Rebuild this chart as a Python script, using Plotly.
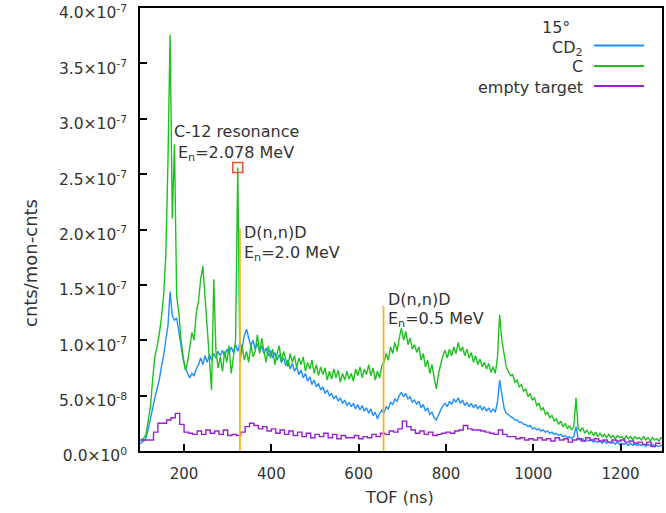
import numpy as np
import plotly.graph_objects as go

# ---------------- data (values in units of 1e-8 cnts/mon-cnts) ----------------
tof = np.arange(98, 1299, 5)  # TOF bin centres (ns)

cd2_e8 = [
    0.6, 0.8, 0.9, 1.2, 2.0, 3.0, 3.9, 4.8, 5.6, 6.4,
    7.6, 8.6, 10.0, 11.3, 14.4, 12.2, 11.8, 12.0, 10.8, 9.5,
    8.2, 7.5, 7.0, 6.6, 7.0, 6.8, 7.4, 7.8, 8.4, 7.8,
    8.6, 8.0, 8.7, 8.2, 8.8, 8.4, 9.0, 8.6, 9.1, 8.5,
    9.2, 8.8, 9.4, 8.9, 9.6, 9.0, 9.8, 9.3, 10.4, 11.0,
    10.2, 9.5, 10.0, 9.2, 9.7, 9.0, 9.5, 8.8, 9.3, 8.6,
    9.1, 8.4, 8.9, 8.2, 8.7, 8.0, 8.4, 7.7, 8.2, 7.4,
    7.9, 7.2, 7.6, 6.9, 7.3, 6.6, 7.0, 6.3, 6.7, 6.0,
    6.4, 5.8, 6.1, 5.5, 5.8, 5.2, 5.5, 5.0, 5.2, 4.7,
    5.0, 4.5, 4.8, 4.3, 4.6, 4.1, 4.4, 4.0, 4.3, 3.8,
    4.2, 3.7, 4.1, 3.6, 3.9, 3.4, 3.8, 3.2, 3.5, 2.9,
    3.4, 3.7, 3.4, 4.0, 3.8, 4.4, 4.2, 4.7, 4.5, 5.0,
    5.3, 4.9, 5.2, 4.7, 4.9, 4.4, 4.6, 4.2, 4.5, 3.9,
    4.2, 3.6, 3.9, 3.3, 3.5, 3.0, 2.8, 3.3, 3.7, 4.1,
    4.3, 4.0, 4.5, 4.2, 4.7, 4.4, 4.8, 4.3, 4.6, 4.1,
    4.4, 4.0, 4.3, 3.9, 4.2, 3.8, 4.1, 3.7, 4.0, 3.6,
    3.9, 3.5, 3.8, 3.5, 4.4, 6.4, 5.0, 3.9, 3.4, 3.3,
    3.1, 3.0, 2.8, 2.8, 2.6, 2.6, 2.4, 2.4, 2.2, 2.3,
    2.0, 2.1, 1.9, 2.0, 1.8, 1.9, 1.7, 1.8, 1.6, 1.7,
    1.5, 1.6, 1.4, 1.5, 1.3, 1.4, 1.2, 1.3, 1.1, 1.3,
    2.2, 1.1, 1.0, 1.1, 0.9, 1.0, 0.9, 1.0, 0.8, 0.9,
    0.8, 0.9, 0.7, 0.9, 0.7, 0.8, 0.7, 0.8, 0.6, 0.8,
    0.6, 0.7, 0.6, 0.7, 0.5, 0.7, 0.5, 0.6, 0.5, 0.6,
    0.5, 0.6, 0.4, 0.6, 0.5, 0.6, 0.4, 0.5, 0.4, 0.5,
    0.5,
]

c_e8 = [
    1.0, 1.0, 1.2, 1.5, 2.8, 4.0, 6.5, 8.5, 9.4, 10.5,
    12.0, 14.0, 17.5, 26.0, 37.6, 21.0, 27.7, 14.0, 12.5, 10.0,
    8.5, 7.3, 8.0, 9.5, 10.7, 10.0, 12.5, 13.5, 15.5, 16.7,
    14.0, 11.5, 9.0, 5.5, 15.5, 9.0, 7.5, 8.5, 7.2, 9.0,
    8.0, 9.5, 7.0, 8.8, 10.0, 25.6, 8.0, 9.5, 8.2, 9.0,
    8.0, 9.6, 8.5, 9.0, 10.5, 8.8, 10.2, 9.0, 8.0, 9.5,
    8.4, 9.2, 7.8, 8.8, 9.5, 8.0, 9.0, 8.3, 7.6, 8.8,
    8.0, 8.6, 7.5, 8.4, 7.8, 8.5, 7.2, 8.0, 7.4, 8.2,
    7.0, 7.8, 6.8, 7.6, 6.9, 7.5, 6.4, 7.2, 6.5, 7.4,
    6.6, 7.3, 6.2, 7.0, 6.4, 7.2, 6.5, 7.0, 6.3, 7.4,
    6.8, 7.6, 6.6, 7.4, 6.9, 7.8, 6.8, 7.5, 6.4, 7.2,
    6.6, 7.7, 8.0, 8.8, 8.2, 9.4, 8.8, 9.8, 9.0, 10.2,
    11.1, 10.0, 10.8, 9.6, 10.2, 9.2, 9.6, 8.9, 9.4, 8.2,
    8.8, 7.6, 8.2, 7.0, 7.8, 6.6, 5.6, 7.0, 7.8, 8.6,
    9.1, 8.4, 9.2, 8.6, 9.4, 8.8, 9.8, 9.0, 9.4, 8.6,
    9.2, 8.4, 8.9, 8.0, 8.6, 7.8, 8.3, 7.6, 8.0, 7.4,
    7.9, 7.1, 7.6, 7.0, 8.4, 12.3, 10.0, 8.6, 7.6, 7.2,
    6.8, 6.9, 6.2, 6.4, 5.8, 6.0, 5.4, 5.6, 4.9, 5.2,
    4.6, 4.8, 4.1, 4.3, 3.7, 3.9, 3.3, 3.5, 3.0, 3.2,
    2.7, 2.9, 2.4, 2.7, 2.2, 2.5, 2.0, 2.3, 1.9, 2.2,
    4.8, 2.0, 1.8, 2.1, 1.6, 1.9, 1.5, 1.8, 1.4, 1.7,
    1.3, 1.6, 1.3, 1.5, 1.2, 1.5, 1.2, 1.4, 1.1, 1.4,
    1.2, 1.3, 1.0, 1.4, 1.1, 1.3, 1.0, 1.3, 1.1, 1.2,
    1.0, 1.3, 1.0, 1.2, 0.9, 1.2, 1.0, 1.1, 0.9, 1.2,
    1.0,
]

empty_tof = np.arange(100, 1300, 10)  # coarser bins (ns)
empty_e8 = [
    1.0, 1.0, 1.0, 1.7, 2.5, 2.5, 2.8, 3.0, 3.4, 2.4,
    1.7, 1.6, 1.5, 1.8, 1.5, 1.9, 1.6, 1.8, 1.5, 1.9,
    1.4, 1.5, 1.4, 1.7, 2.2, 2.5, 2.3, 2.0, 2.2, 1.8,
    2.0, 1.6, 1.9, 1.5, 1.8, 1.4, 1.7, 1.3, 1.6, 1.2,
    1.5, 1.3, 1.6, 1.2, 1.5, 1.1, 1.4, 1.2, 1.2, 1.4,
    1.1, 1.3, 1.2, 1.5, 1.3, 1.6, 1.5, 1.8, 1.7, 2.0,
    2.7, 2.2, 1.9, 1.6, 1.8, 1.5, 1.7, 1.4, 1.5, 1.6,
    1.7, 1.6, 1.8, 1.9, 2.3, 2.0, 1.9, 1.9, 1.8, 1.7,
    1.6, 1.5, 1.9, 1.5, 1.3, 1.3, 1.1, 1.2, 1.0, 1.1,
    1.0, 1.2, 1.0, 1.1, 0.9, 1.2, 1.0, 1.1, 0.8, 1.0,
    1.1, 0.9, 1.2, 1.0, 1.1, 0.9, 1.0, 0.8, 1.0, 0.9,
    1.0, 0.8, 0.9, 0.7, 0.8, 0.6, 0.8, 0.4, 0.7, 0.6,
]

resonance_tof = [323]          # C-12 resonance marker
resonance_val = [2.56e-7]
dnd_tof = [328, 657]           # D(n,n)D markers
dnd_top = [2.01e-7, 1.31e-7]

ytick_vals = [0, 5e-8, 1e-7, 1.5e-7, 2e-7, 2.5e-7, 3e-7, 3.5e-7, 4e-7]
ytick_text = ["0.0×10<sup>0</sup>", "5.0×10<sup>-8</sup>", "1.0×10<sup>-7</sup>",
              "1.5×10<sup>-7</sup>", "2.0×10<sup>-7</sup>", "2.5×10<sup>-7</sup>",
              "3.0×10<sup>-7</sup>", "3.5×10<sup>-7</sup>", "4.0×10<sup>-7</sup>"]
xtick_vals = [200, 400, 600, 800, 1000, 1200]

E8 = 1e-8
cd2 = np.array(cd2_e8) * E8
c = np.array(c_e8) * E8
empty = np.array(empty_e8) * E8

# ---------------- styling ----------------
FONT = "DejaVu Sans"
TXT = "#333333"
BLUE = "#1e8fff"
GREEN = "#1ec21e"
PURPLE = "#9a1fd6"
ORANGE = "#f8b030"
RED = "#f0502a"

W, H = 666, 513
L, R, T, B = 140, 4, 8, 62
pw, ph = W - L - R, H - T - B


def pp(x, y):
    """pixel -> paper coordinates"""
    return (x - L) / pw, (H - B - y) / ph


fig = go.Figure()
fig.add_trace(go.Scatter(x=tof, y=cd2, mode="lines", line=dict(color=BLUE, width=1.4),
                         showlegend=False))
fig.add_trace(go.Scatter(x=tof, y=c, mode="lines", line=dict(color=GREEN, width=1.4),
                         showlegend=False))
fig.add_trace(go.Scatter(x=empty_tof, y=empty, mode="lines", line_shape="hv",
                         line=dict(color=PURPLE, width=1.4), showlegend=False))
for t, top in zip(dnd_tof, dnd_top):
    fig.add_trace(go.Scatter(x=[t, t], y=[0, top], mode="lines",
                             line=dict(color=ORANGE, width=1.8), showlegend=False))
fig.add_trace(go.Scatter(x=resonance_tof, y=resonance_val, mode="markers",
                         marker=dict(symbol="square-open", size=10, color=RED,
                                     line=dict(width=1.5, color=RED)),
                         showlegend=False))

annotations = []


def add_text(text, x, y, xanchor="left", size=16, angle=0, align="left"):
    ax, ay = pp(x, y)
    annotations.append(dict(text=text, x=ax, y=ay, xref="paper", yref="paper",
                            xanchor=xanchor, yanchor="middle", showarrow=False,
                            textangle=angle, align=align,
                            font=dict(family=FONT, size=size, color=TXT)))


add_text("C-12 resonance", 236, 131, xanchor="center")
add_text("E<sub>n</sub>=2.078 MeV", 236, 153, xanchor="center")
add_text("D(n,n)D", 242, 232)
add_text("E<sub>n</sub>=2.0 MeV", 242, 253)
add_text("D(n,n)D", 386, 299)
add_text("E<sub>n</sub>=0.5 MeV", 386, 319)
# legend
add_text("15°", 572, 27, xanchor="right")
add_text("CD<sub>2</sub>", 585, 49, xanchor="right")
add_text("C", 585, 66, xanchor="right")
add_text("empty target", 585, 87, xanchor="right")
# axis titles
add_text("cnts/mon-cnts", 30, 263, xanchor="center", angle=-90, size=18)
add_text("TOF (ns)", 399, 497, xanchor="center")

shapes = []
for yy, col in [(45.5, BLUE), (66, GREEN), (86, PURPLE)]:
    x0, y0 = pp(594, yy)
    x1, _ = pp(644, yy)
    shapes.append(dict(type="line", xref="paper", yref="paper", x0=x0, x1=x1,
                       y0=y0, y1=y0, line=dict(color=col, width=2)))

fig.update_layout(
    width=W, height=H,
    margin=dict(l=L, r=R, t=T, b=B, pad=0, autoexpand=False),
    paper_bgcolor="white", plot_bgcolor="white",
    font=dict(family=FONT, size=15, color=TXT),
    annotations=annotations, shapes=shapes,
    showlegend=False,
    xaxis=dict(range=[99, 1295], tickvals=xtick_vals, ticks="inside", ticklen=7,
               tickwidth=1.5, tickcolor="black", showline=True, linecolor="black",
               linewidth=1.5, mirror=True, showgrid=False, zeroline=False,
               automargin=False,
               ticklabelstandoff=8, tickfont=dict(size=15, color=TXT)),
    yaxis=dict(range=[0, 4e-7], tickvals=ytick_vals, ticktext=ytick_text,
               ticks="inside", ticklen=7, tickwidth=1.5, tickcolor="black",
               showline=True, linecolor="black", linewidth=1.5, mirror=True,
               showgrid=False, zeroline=False, ticklabelstandoff=8,
               automargin=False,
               ticklabelshift=5, ticklabeloverflow="allow",
               tickfont=dict(size=15.5, color=TXT)),
)

fig.write_html("out.html")
